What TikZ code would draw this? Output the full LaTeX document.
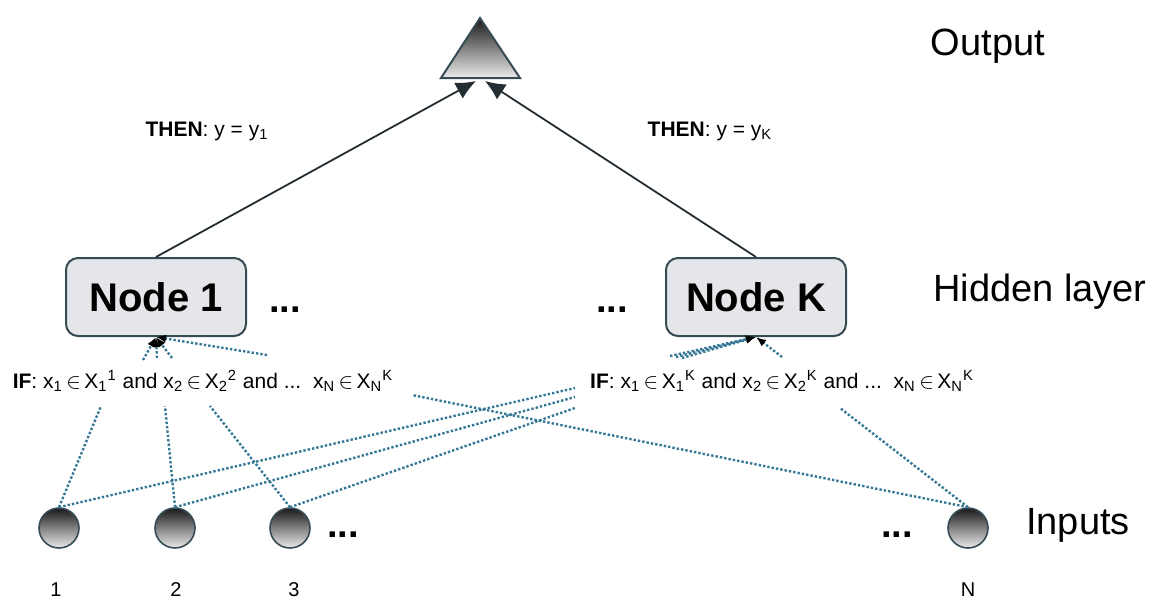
\documentclass[tikz,border=0pt]{standalone}
\usepackage{fontspec}
\setmainfont{Liberation Sans}
\usetikzlibrary{arrows.meta,positioning}

\begin{document}
\begin{tikzpicture}[x=0.5pt, y=-0.5pt,
    hidden/.style={draw=borderColour, fill=fillColourA, rounded corners=6pt, line width=1pt,
        minimum width=90pt, minimum height=39pt, font=\fontsize{20}{24}\selectfont\bfseries},
    input/.style={circle, draw=borderColour, line width=0.8pt, minimum size=20pt, inner sep=0pt,
        top color=shadeDark, bottom color=shadeLight},
    layer/.style={font=\fontsize{19}{22}\selectfont},
    rule/.style={font=\fontsize{10.5}{12}\selectfont, inner sep=0pt},
    num/.style={font=\fontsize{10}{12}\selectfont},
    gap/.style={font=\fontsize{19}{22}\selectfont\bfseries},
    link/.style={draw=lineColour, line width=0.9pt, -{Latex[length=10pt,width=9pt]}},
    cond/.style={draw=dotColour, densely dotted, line width=1.2pt},
    condin/.style={cond, -{Latex[length=5pt,width=4pt,black]}}]
    \definecolor{borderColour}{RGB}{55,75,85}
    \definecolor{fillColourA}{RGB}{228,230,233}
    \definecolor{lineColour}{RGB}{35,45,50}
    \definecolor{dotColour}{RGB}{55,120,150}
    \definecolor{shadeDark}{RGB}{25,25,25}
    \definecolor{shadeLight}{RGB}{235,235,235}

    \useasboundingbox (0,0) rectangle (1160,600);

    % Output triangle
    \coordinate (apex) at (480,18);
    \coordinate (baseL) at (441,78);
    \coordinate (baseR) at (520,78);
    \shadedraw[top color=shadeDark, bottom color=shadeLight, draw=borderColour, line width=1pt]
        (apex) -- (baseR) -- (baseL) -- cycle;
    \coordinate (tipA) at (476,81);
    \coordinate (tipB) at (485,81);

    % Layer labels
    \node[layer] (outLbl) at (988,46) {Output};
    \node[layer] (hidLbl) at (1040,292) {Hidden layer};
    \node[layer] (inLbl) at (1078,525) {Inputs};

    % Hidden layer
    \node[hidden] (n1) at (156,297) {Node 1};
    \node[hidden] (nK) at (756,297) {Node K};
    \node[gap] (gap1) at (285,310) {...};
    \node[gap] (gap2) at (612,310) {...};

    % Rules
    \node[rule] (then1) at (207,131) {\textbf{THEN}: y = y\textsubscript{1}};
    \node[rule] (thenK) at (710,131) {\textbf{THEN}: y = y\textsubscript{K}};
    \node[rule] (if1) at (203,381) {\textbf{IF}: x\textsubscript{1}\,$\in$\,X\textsubscript{1}\textsuperscript{1}
        and x\textsubscript{2}\,$\in$\,X\textsubscript{2}\textsuperscript{2} and ...\ \ x\textsubscript{N}\,$\in$\,X\textsubscript{N}\textsuperscript{K}};
    \node[rule] (ifK) at (782,381) {\textbf{IF}: x\textsubscript{1}\,$\in$\,X\textsubscript{1}\textsuperscript{K}
        and x\textsubscript{2}\,$\in$\,X\textsubscript{2}\textsuperscript{K} and ...\ \ x\textsubscript{N}\,$\in$\,X\textsubscript{N}\textsuperscript{K}};

    % Hidden nodes to output
    \draw[link] (n1.north) -- (tipA);
    \draw[link] (nK.north) -- (tipB);

    % Inputs
    \node[input] (in1) at (59,528) {};
    \node[input] (in2) at (175,528) {};
    \node[input] (in3) at (290,528) {};
    \node[input] (inN) at (968,528) {};
    \node[gap] (gap3) at (343,535) {...};
    \node[gap] (gap4) at (897,535) {...};
    \node[num] (lab1) at (56,590) {1};
    \node[num] (lab2) at (176,590) {2};
    \node[num] (lab3) at (294,590) {3};
    \node[num] (labN) at (968,590) {N};

    % Conditions into the hidden nodes
    \foreach \x/\y [count=\i] in {143/360,157/358,172/358,267/355} {
        \coordinate (a\i) at (\x,\y);
        \draw[condin] (a\i) -- (n1.south);
    }
    \foreach \x/\y [count=\i] in {670/356,676/357,682/358,782/357} {
        \coordinate (b\i) at (\x,\y);
        \draw[condin] (b\i) -- (nK.south);
    }

    % Inputs to the left rule
    \coordinate (p1) at (101,406);
    \coordinate (p2) at (165,406);
    \coordinate (p3) at (210,406);
    \coordinate (pN) at (412,395);
    \draw[cond] (in1.north) -- (p1);
    \draw[cond] (in2.north) -- (p2);
    \draw[cond] (in3.north) -- (p3);
    \draw[cond] (inN.north) -- (pN);

    % Inputs to the right rule
    \coordinate (q1) at (575,388);
    \coordinate (q2) at (575,397);
    \coordinate (q3) at (575,408);
    \coordinate (qN) at (840,408);
    \draw[cond] (in1.north) -- (q1);
    \draw[cond] (in2.north) -- (q2);
    \draw[cond] (in3.north) -- (q3);
    \draw[cond] (inN.north) -- (qN);

\end{tikzpicture}
\end{document}
